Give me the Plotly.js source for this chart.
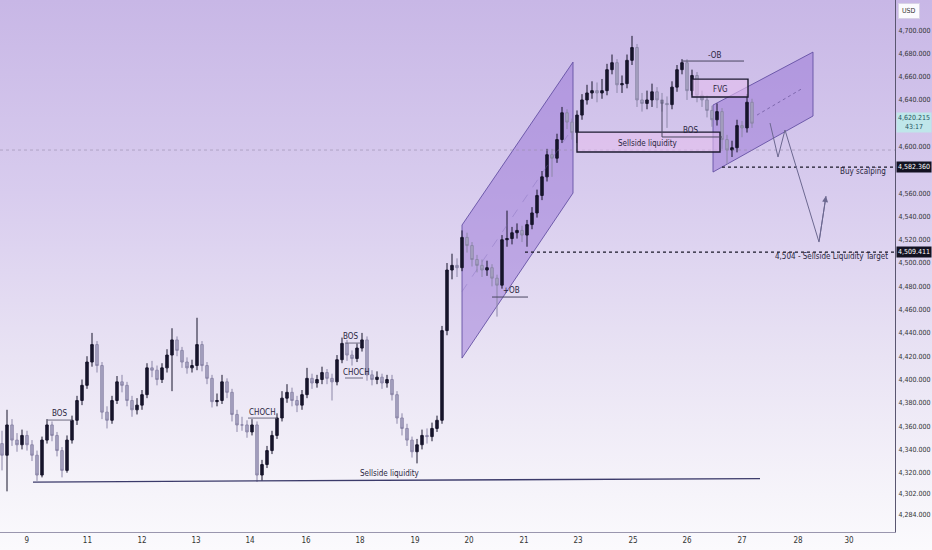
<!DOCTYPE html>
<html>
<head>
<meta charset="utf-8">
<script src="https://cdn.plot.ly/plotly-3.0.1.min.js"></script>
<style>
  body { margin: 0; }
  #chart {
    width: 932px; height: 550px;
    background: linear-gradient(to bottom, #c8b7e6 0%, #d8ccee 35%, #e9e3f4 65%, #f6f4fa 90%, #fbfafd 100%);
  }
</style>
</head>
<body>
<div id="chart"></div>
<script>
// hourly candles, one per bar index
var opens = [4345,4335,4361,4348,4344,4352,4344,4335,4318,4348,4361,4352,4339,4322,4348,4365,4382,4395,4415,4430,
  4412,4372,4365,4382,4398,4395,4382,4374,4378,4387,4410,4408,4400,4410,4421,4434,4425,4415,4410,4412,
  4430,4412,4401,4381,4382,4398,4389,4370,4361,4361,4355,4361,4318,4327,4339,4352,4367,4384,4389,4382,
  4378,4387,4401,4397,4400,4406,4401,4398,4417,4431,4421,4418,4427,4434,4404,4400,4402,4397,4400,4387,
  4367,4358,4348,4338,4344,4352,4351,4358,4365,4442,4494,4498,4496,4522,4515,4503,4498,4494,4496,4487,
  4481,4520,4521,4526,4528,4524,4533,4543,4558,4574,4593,4590,4606,4629,4621,4612,4627,4640,4646,4648,
  4646,4648,4666,4672,4653,4654,4674,4685,4640,4637,4640,4647,4640,4637,4636,4651,4666,4672,4648,4661,
  4644,4640,4631,4623,4630,4606,4597,4599,4618,4616,4638];
var highs = [4356,4374,4366,4354,4357,4356,4348,4339,4351,4366,4364,4355,4342,4352,4369,4386,4400,4420,4440,4433,
  4415,4377,4386,4403,4404,4398,4386,4384,4391,4414,4416,4412,4414,4426,4444,4437,4428,4419,4417,4453,
  4433,4415,4404,4388,4404,4401,4392,4374,4368,4365,4366,4364,4331,4343,4356,4371,4390,4396,4393,4386,
  4391,4410,4405,4404,4411,4409,4405,4421,4436,4434,4425,4431,4440,4437,4408,4407,4405,4404,4404,4390,
  4371,4362,4351,4349,4357,4358,4363,4369,4446,4500,4508,4504,4528,4526,4518,4507,4503,4502,4499,4490,
  4524,4545,4531,4534,4532,4537,4548,4563,4579,4598,4598,4611,4634,4632,4624,4631,4645,4653,4656,4655,
  4658,4671,4679,4675,4661,4679,4695,4688,4646,4648,4654,4651,4646,4643,4656,4670,4675,4675,4666,4664,
  4648,4644,4635,4637,4633,4610,4605,4623,4622,4645,4641];
var lows = [4322,4304,4343,4338,4340,4339,4330,4313,4316,4345,4347,4334,4316,4320,4345,4361,4378,4392,4411,4406,
  4366,4358,4362,4379,4389,4377,4368,4370,4374,4384,4402,4395,4397,4406,4390,4420,4410,4405,4406,4408,
  4407,4396,4376,4377,4379,4384,4364,4355,4356,4350,4352,4312,4313,4324,4336,4349,4364,4380,4377,4372,
  4374,4384,4392,4393,4396,4396,4382,4395,4414,4416,4412,4415,4424,4399,4395,4396,4392,4393,4382,4362,
  4352,4343,4333,4328,4340,4345,4347,4355,4362,4438,4486,4488,4493,4509,4497,4492,4488,4489,4480,4454,
  4478,4514,4516,4521,4518,4514,4529,4539,4554,4570,4574,4586,4603,4615,4606,4603,4623,4636,4641,4638,
  4641,4644,4662,4646,4646,4650,4670,4634,4630,4632,4634,4633,4630,4616,4632,4647,4662,4640,4644,4638,
  4634,4625,4617,4618,4598,4585,4591,4595,4608,4612,4616];
var closes = [4335,4361,4348,4344,4352,4344,4335,4318,4348,4361,4352,4339,4322,4348,4365,4382,4395,4415,4430,4412,
  4372,4365,4382,4398,4395,4382,4374,4378,4387,4410,4408,4400,4410,4421,4434,4425,4415,4410,4412,4430,
  4412,4401,4381,4382,4398,4389,4370,4361,4361,4355,4361,4318,4327,4339,4352,4367,4384,4389,4382,4378,
  4387,4401,4397,4400,4406,4401,4398,4417,4431,4421,4418,4427,4434,4404,4400,4402,4397,4400,4387,4367,
  4358,4348,4338,4344,4352,4351,4358,4365,4442,4494,4498,4496,4522,4515,4503,4498,4494,4496,4487,4481,
  4520,4521,4526,4528,4524,4533,4543,4558,4574,4593,4590,4606,4629,4621,4612,4627,4640,4646,4648,4646,
  4648,4666,4672,4653,4654,4674,4685,4640,4637,4640,4647,4640,4637,4636,4651,4666,4672,4648,4661,4644,
  4640,4631,4623,4630,4606,4597,4599,4618,4616,4638,4620];

var dayTickPos = [4.94, 17.08, 28, 38.8, 49.6, 60.8, 71.6, 82.6, 93.4, 104.4, 115.2, 126.2, 137, 148, 159.2, 169.4];
var dayLabels = ['9','11','12','13','14','16','18','19','20','21','23','25','26','27','28','30'];
var priceTicks = [4700,4680,4660,4640,4600,4560,4540,4520,4500,4480,4460,4440,4420,4400,4380,4360,4340,4320,4302,4284];
var priceTickText = priceTicks.map(v => v.toLocaleString('en-US') + '.000');

var lastPrice = 4620.215, buyLevel = 4582.360, targetLevel = 4509.411;

var barIdx = closes.map((_, i) => i);

var candles = {
  type: 'candlestick',
  x: barIdx, open: opens, high: highs, low: lows, close: closes,
  increasing: { line: { color: '#17152b', width: 1 }, fillcolor: '#17152b' },
  decreasing: { line: { color: '#8c87a8', width: 1 }, fillcolor: '#aaa5c4' },
  whiskerwidth: 0,
  hoverinfo: 'skip',
  showlegend: false
};

var ink = '#1d1b30';
var narrow = 'DejaVu Sans Condensed, Liberation Sans Narrow, Arial Narrow, sans-serif';
var lbl = { family: narrow, size: 8, color: '#2a2640' };
var axisFont = { family: narrow, size: 7, color: '#333' };

function hline(x0, x1, y0, y1, color, dash, width) {
  return { type: 'line', xref: 'x', yref: 'y', x0: x0, x1: x1, y0: y0, y1: y1,
    line: { color: color, width: width || 1, dash: dash || 'solid' } };
}
function poly(pts, fill, line) {
  var d = 'M ' + pts.map(p => p[0] + ',' + p[1]).join(' L ') + ' Z';
  return { type: 'path', xref: 'x', yref: 'y', path: d, fillcolor: fill, layer: 'below',
    line: { color: line, width: 1 } };
}

var shapes = [
  // light crosshair level
  { type: 'line', xref: 'paper', yref: 'y', x0: 0, x1: 1, y0: 4597, y1: 4597,
    line: { color: 'rgba(150,140,170,0.6)', width: 1, dash: 'dot' } },
  // rising channels
  poly([[92, 4532.6], [114.2, 4672.5], [114.2, 4560.1], [92, 4418.4]], 'rgba(140,100,210,0.42)', 'rgba(95,75,160,0.85)'),
  hline(92, 114.2, 4475.5, 4616.3, 'rgba(120,100,180,0.35)', 'dash'),
  poly([[142.2, 4635.6], [162.2, 4681.1], [162.2, 4626.2], [142.2, 4578.1]], 'rgba(140,100,210,0.42)', 'rgba(95,75,160,0.85)'),
  hline(151, 160.2, 4627, 4650.2, 'rgba(90,70,140,0.6)', 'dot'),
  // structure lines
  hline(9, 14, 4365.2, 4365.2, '#6d6a80'),
  hline(49.2, 55, 4366.9, 4366.9, '#6d6a80'),
  hline(68.6, 71.6, 4431.3, 4431.3, '#6d6a80'),
  hline(68.6, 72.2, 4401.3, 4401.3, '#6d6a80'),
  hline(98, 105.2, 4470.8, 4470.8, '#4a4760'),
  hline(6.2, 151.6, 4312, 4315, '#3b3a6a', 'solid', 1.3),
  // boxes
  { type: 'rect', xref: 'x', yref: 'y', x0: 115, x1: 143.6, y0: 4595.3, y1: 4612.4,
    fillcolor: 'rgba(228,190,238,0.6)', line: { color: ink, width: 1.4 } },
  { type: 'rect', xref: 'x', yref: 'y', x0: 138, x1: 149.2, y0: 4642.5, y1: 4657.9,
    fillcolor: 'rgba(228,190,238,0.6)', line: { color: ink, width: 1.4 } },
  hline(132, 144, 4608.2, 4608.2, '#4a4760'),
  hline(132, 132, 4608.2, 4640, '#4a4760'),
  hline(136, 148.4, 4673.4, 4673.4, '#4a4760'),
  // target levels
  hline(144, 178.6, buyLevel, buyLevel, '#1a1828', 'dot', 1.3),
  hline(104.6, 178.6, targetLevel, targetLevel, '#1a1828', 'dot', 1.3),
  // projected path
  { type: 'path', xref: 'x', yref: 'y',
    path: 'M 153.6,4620.2 L 155.2,4591 L 156.6,4614.2 L 163.4,4518 L 164.8,4557.5',
    line: { color: '#6c6890', width: 1 } }
];

function note(x, y, text, extra) {
  return Object.assign({ x: x, y: y, xref: 'x', yref: 'y', text: text, showarrow: false, font: lbl }, extra || {});
}
function priceTag(y, text, bg, color) {
  return { xref: 'paper', yref: 'y', x: 1, y: y, xanchor: 'left', text: text, showarrow: false,
    bgcolor: bg, borderpad: 1, xshift: 1, font: { family: narrow, size: 7, color: color } };
}

var annotations = [
  note(11.4, 4371.2, 'BOS'),
  note(52, 4372.1, 'CHOCH'),
  note(69.6, 4437.3, 'BOS'),
  note(70.8, 4405.6, 'CHOCH'),
  note(77.6, 4318.9, 'Sellside liquidity'),
  note(101.8, 4476.8, '+OB'),
  note(129.2, 4603, 'Sellside liquidity'),
  note(137.6, 4614.2, 'BOS'),
  note(142.4, 4678.5, '-OB'),
  note(143.6, 4649.4, 'FVG'),
  note(177.2, 4579, 'Buy scalping', { xanchor: 'right' }),
  note(177.6, 4506, '4,504 - Sellside Liquidity Target', { xanchor: 'right' }),
  { x: 164.8, y: 4557.5, ax: 163.4, ay: 4518, xref: 'x', yref: 'y', axref: 'x', ayref: 'y',
    text: '', showarrow: true, arrowhead: 2, arrowsize: 1.2, arrowwidth: 1, arrowcolor: '#6c6890' },
  priceTag(lastPrice, '4,620.215<br>43:17', '#bfe6ea', '#1f5561'),
  priceTag(buyLevel, '4,582.360', '#131222', '#ffffff'),
  priceTag(targetLevel, '4,509.411', '#131222', '#ffffff'),
  { xref: 'paper', yref: 'paper', x: 1, y: 1, xanchor: 'left', yanchor: 'top', xshift: 3, yshift: -3,
    text: 'USD', showarrow: false, bgcolor: '#fbfafe', bordercolor: '#d8d2e6', borderwidth: 1, borderpad: 3,
    font: { family: narrow, size: 7, color: '#333' } }
];

var layout = {
  width: 932, height: 550,
  margin: { l: 0, r: 37, t: 0, b: 18 },
  paper_bgcolor: 'rgba(0,0,0,0)',
  plot_bgcolor: 'rgba(0,0,0,0)',
  showlegend: false,
  xaxis: {
    range: [-0.4, 178.6], rangeslider: { visible: false },
    tickvals: dayTickPos, ticktext: dayLabels, ticks: '',
    showgrid: false, zeroline: false, showline: true, linecolor: '#9a96ae', linewidth: 1,
    tickfont: { family: narrow, size: 8, color: '#333' }
  },
  yaxis: {
    side: 'right', range: [4269.1, 4725.8],
    tickvals: priceTicks, ticktext: priceTickText, ticks: 'outside', ticklen: 1, tickcolor: 'rgba(0,0,0,0)',
    showgrid: false, zeroline: false, showline: true, linecolor: '#5a5670', linewidth: 1,
    tickfont: axisFont
  },
  shapes: shapes,
  annotations: annotations,
  font: { family: narrow }
};

Plotly.newPlot('chart', [candles], layout, { displayModeBar: false, staticPlot: true });
</script>
</body>
</html>
